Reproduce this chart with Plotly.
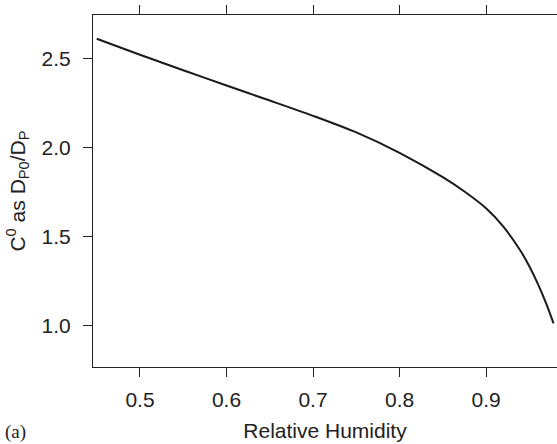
import plotly.graph_objects as go

rh = [0.45, 0.50, 0.55, 0.60, 0.65, 0.70, 0.75, 0.80, 0.85, 0.875, 0.90, 0.92, 0.94, 0.95, 0.96, 0.97, 0.978]
c0 = [2.61, 2.521, 2.434, 2.348, 2.264, 2.178, 2.085, 1.971, 1.834, 1.754, 1.66, 1.557, 1.42, 1.335, 1.235, 1.12, 1.015]
x_ticks = [0.5, 0.6, 0.7, 0.8, 0.9]
y_ticks = [1.0, 1.5, 2.0, 2.5]

fig = go.Figure()
fig.add_trace(go.Scatter(x=rh, y=c0, mode="lines",
                         line=dict(color="#1a1a1a", width=2, shape="spline", smoothing=0.8),
                         showlegend=False, hoverinfo="skip"))

font = dict(family="Liberation Sans, Arial, sans-serif", size=21, color="#222")
fig.update_layout(
    width=557, height=444,
    margin=dict(l=93, r=0, t=15, b=77),
    paper_bgcolor="white", plot_bgcolor="white",
    font=font,
    xaxis=dict(range=[0.4457, 0.982], tickvals=x_ticks, ticktext=[f"{v:.1f}" for v in x_ticks],
               showline=True, linecolor="#222", linewidth=1, mirror="ticks",
               ticks="outside", ticklen=9, tickcolor="#222", tickwidth=1,
               ticklabelstandoff=5,
               showgrid=False, zeroline=False,
               title=dict(text="Relative Humidity", font=font, standoff=13)),
    yaxis=dict(range=[0.770, 2.7435], tickvals=y_ticks, ticktext=[f"{v:.1f}" for v in y_ticks],
               showline=True, linecolor="#222", linewidth=1, mirror=False,
               ticks="outside", ticklen=9, tickcolor="#222", tickwidth=1,
               ticklabelstandoff=8,
               showgrid=False, zeroline=False,
               title=dict(text="C<sup>0</sup> as D<sub>P0</sub>/D<sub>P</sub>", font=font, standoff=10)),
    annotations=[dict(text="(a)", xref="paper", yref="paper", x=-90/464, y=-65/352,
                      xanchor="left", yanchor="middle", showarrow=False,
                      font=dict(family="Liberation Serif, Times New Roman, serif", size=19, color="#222"))],
)

fig.write_html("out.html", config={"displayModeBar": False},
               post_script="document.body.style.margin='0';")
